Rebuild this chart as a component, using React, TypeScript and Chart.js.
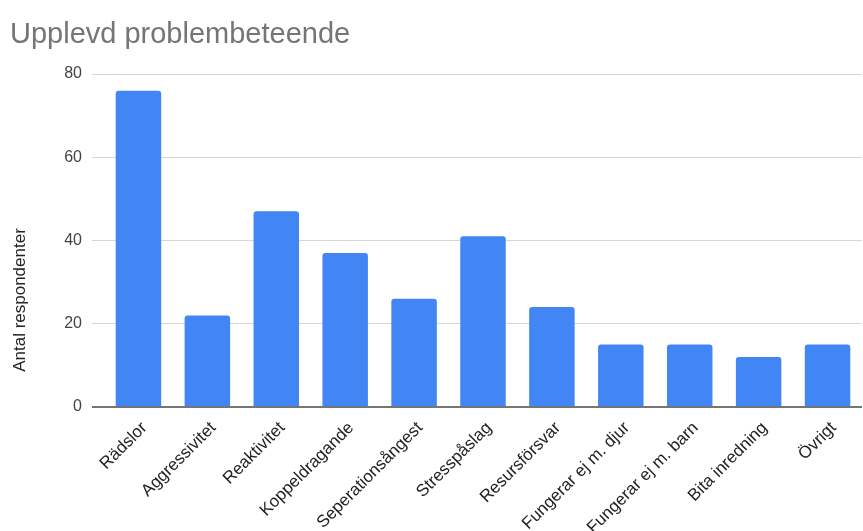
import React, { useEffect, useRef } from "react";
import { Chart, registerables } from "chart.js";

Chart.register(...registerables);

const chartTitle = "Upplevd problembeteende";
const yAxisTitle = "Antal respondenter";
const categories = [
  "Rädslor",
  "Aggressivitet",
  "Reaktivitet",
  "Koppeldragande",
  "Seperationsångest",
  "Stresspåslag",
  "Resursförsvar",
  "Fungerar ej m. djur",
  "Fungerar ej m. barn",
  "Bita inredning",
  "Övrigt",
];
const respondents = [76, 22, 47, 37, 26, 41, 24, 15, 15, 12, 15];
const yTicks = [0, 20, 40, 60, 80];

const FONT = "Arial, 'Liberation Sans', Helvetica, sans-serif";

const textPlugin = {
  id: "customText",
  afterDraw(chart: any) {
    const ctx = chart.ctx;
    ctx.save();
    ctx.fillStyle = "#757575";
    ctx.font = `29px ${FONT}`;
    ctx.textAlign = "left";
    ctx.textBaseline = "alphabetic";
    ctx.fillText(chartTitle, 10, 43);
    ctx.restore();

    ctx.save();
    ctx.fillStyle = "#222222";
    ctx.font = `17px ${FONT}`;
    ctx.translate(25, 300);
    ctx.rotate(-Math.PI / 2);
    ctx.textAlign = "center";
    ctx.textBaseline = "alphabetic";
    ctx.fillText(yAxisTitle, 0, 0);
    ctx.restore();
  },
};

export default function App() {
  const ref = useRef<HTMLCanvasElement>(null);
  useEffect(() => {
    if (!ref.current) return;
    const chart = new Chart(ref.current, {
      type: "bar",
      data: {
        labels: categories,
        datasets: [
          {
            label: yAxisTitle,
            data: respondents,
            backgroundColor: "#4285F4",
            borderRadius: { topLeft: 3, topRight: 3, bottomLeft: 0, bottomRight: 0 },
            borderSkipped: "bottom",
            categoryPercentage: 1,
            barPercentage: 0.66,
          },
        ],
      },
      options: {
        responsive: false,
        animation: false,
        layout: { padding: { top: 74, right: 1, left: 0, bottom: 0 } },
        plugins: {
          legend: { display: false },
          tooltip: { enabled: false },
          title: { display: false },
        },
        scales: {
          x: {
            grid: { display: false, drawTicks: false },
            border: { display: false },
            ticks: {
              minRotation: 45,
              maxRotation: 45,
              autoSkip: false,
              padding: 11,
              labelOffset: 6,
              color: "#222222",
              font: { family: FONT, size: 17 },
            },
            afterFit(scale: any) {
              scale.height = 124;
            },
          },
          y: {
            min: 0,
            max: 80,
            afterBuildTicks(scale: any) {
              scale.ticks = yTicks.map((v) => ({ value: v }));
            },
            grid: {
              color: (c: any) => (c.tick && c.tick.value === 0 ? "#757575" : "#d6d6d6"),
              lineWidth: (c: any) => (c.tick && c.tick.value === 0 ? 2 : 1),
              drawTicks: true,
              tickLength: 12,
            },
            border: { display: false },
            ticks: {
              padding: 10,
              color: "#444444",
              font: { family: FONT, size: 16 },
            },
            afterFit(scale: any) {
              scale.width = 104;
            },
          },
        },
      },
      plugins: [textPlugin],
    });
    return () => chart.destroy();
  }, []);
  return (
    <div style={{ position: "fixed", left: 0, top: 0, width: 863, height: 531, background: "#fff" }}>
      <canvas ref={ref} width={863} height={531} />
    </div>
  );
}
